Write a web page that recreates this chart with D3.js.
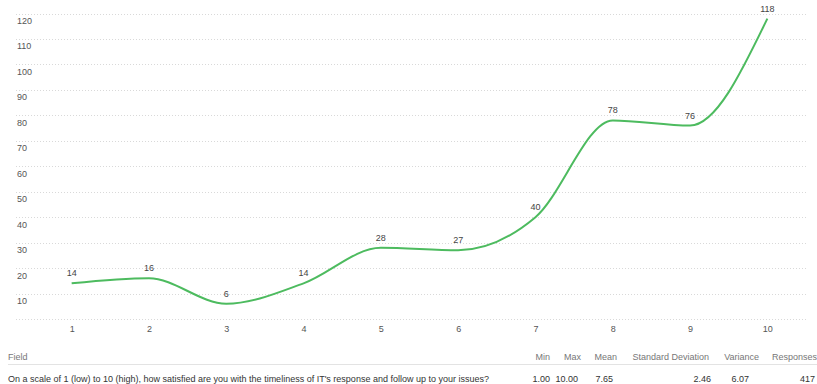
<!DOCTYPE html>
<html>
<head>
<meta charset="utf-8">
<script src="https://cdn.jsdelivr.net/npm/d3@7"></script>
<style>
  html, body { margin: 0; padding: 0; background: #fff; }
  svg { display: block; font-family: "Liberation Sans", Arial, sans-serif; }
</style>
</head>
<body>
<svg id="chart" width="817" height="384"></svg>
<script>
// Satisfaction scale (1 = low, 10 = high) and number of responses per score
const categories = [1, 2, 3, 4, 5, 6, 7, 8, 9, 10];
const counts = [14, 16, 6, 14, 28, 27, 40, 78, 76, 118];
const yTicks = [0, 10, 20, 30, 40, 50, 60, 70, 80, 90, 100, 110, 120];

// Summary statistics table
const fieldLabel = "On a scale of 1 (low) to 10 (high), how satisfied are you with the timeliness of IT's response and follow up to your issues?";
const statHeaders = ["Min", "Max", "Mean", "Standard Deviation", "Variance", "Responses"];
const statValues = ["1.00", "10.00", "7.65", "2.46", "6.07", "417"];

const svg = d3.select("#chart");

const x = d3.scalePoint().domain(categories).range([33, 806]).padding(0.5);
const y = d3.scaleLinear().domain([0, 120]).range([319, 13.5]);

// Dotted horizontal gridlines with labels sitting just below each line
const grid = svg.append("g");
grid.selectAll("line")
  .data(yTicks)
  .join("line")
  .attr("x1", 16).attr("x2", 808)
  .attr("y1", d => Math.round(y(d)) + 0.5)
  .attr("y2", d => Math.round(y(d)) + 0.5)
  .attr("stroke", "#d9d9d9")
  .attr("stroke-width", 1)
  .attr("stroke-dasharray", "1,2");

grid.selectAll("text")
  .data(yTicks.filter(d => d > 0))
  .join("text")
  .attr("x", 17)
  .attr("y", d => y(d) + 10.5)
  .attr("font-size", 9)
  .attr("fill", "#555")
  .text(d => d);

// Category labels under the plot
const xAxis = d3.axisBottom(x).tickSize(0).tickPadding(0);
const xg = svg.append("g").attr("transform", "translate(0,326)").call(xAxis);
xg.select(".domain").remove();
xg.selectAll("text")
  .attr("font-size", 9)
  .attr("fill", "#555")
  .attr("font-family", "Liberation Sans, Arial, sans-serif");

// Smoothed response line
const line = d3.line()
  .x((d, i) => x(categories[i]))
  .y(d => y(d))
  .curve(d3.curveMonotoneX);

svg.append("path")
  .datum(counts)
  .attr("d", line)
  .attr("fill", "none")
  .attr("stroke", "#4dbb5f")
  .attr("stroke-width", 2);

// Value labels above each point
svg.append("g").selectAll("text")
  .data(counts)
  .join("text")
  .attr("x", (d, i) => x(categories[i]))
  .attr("y", d => y(d) - 7)
  .attr("text-anchor", "middle")
  .attr("font-size", 9)
  .attr("fill", "#444")
  .text(d => d);

// Statistics table
const table = svg.append("g").attr("font-size", 9);
table.append("text")
  .attr("x", 8).attr("y", 360)
  .attr("fill", "#777")
  .text("Field");

table.append("line")
  .attr("x1", 8).attr("x2", 817)
  .attr("y1", 364.5).attr("y2", 364.5)
  .attr("stroke", "#e3e3e3");

table.append("text")
  .attr("x", 8).attr("y", 382)
  .attr("fill", "#333")
  .text(fieldLabel);

// Right edges of the header and value cells
const headerRight = [550, 581, 617, 709, 759, 817];
const valueRight = [550, 578, 613, 711, 749, 815];

table.selectAll(".hdr")
  .data(statHeaders)
  .join("text")
  .attr("class", "hdr")
  .attr("x", (d, i) => headerRight[i])
  .attr("y", 360)
  .attr("text-anchor", "end")
  .attr("fill", "#777")
  .text(d => d);

table.selectAll(".val")
  .data(statValues)
  .join("text")
  .attr("class", "val")
  .attr("x", (d, i) => valueRight[i])
  .attr("y", 382)
  .attr("text-anchor", "end")
  .attr("fill", "#333")
  .text(d => d);
</script>
</body>
</html>
